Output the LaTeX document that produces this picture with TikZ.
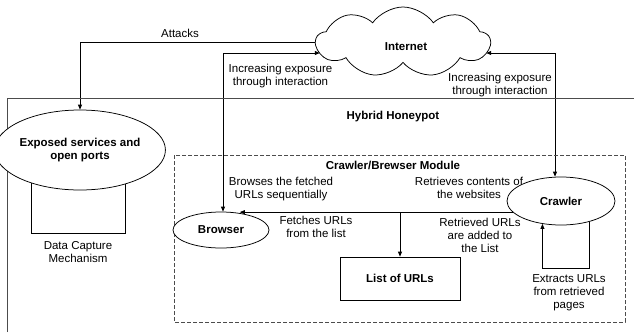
\documentclass[tikz,border=0pt]{standalone}
\usepackage{fontspec}
\setmainfont{Liberation Sans}
\usetikzlibrary{shapes.geometric,shapes.symbols,arrows.meta,backgrounds}
\begin{document}
\begin{tikzpicture}[x=1pt,y=-1pt,
  every node/.style={font=\fontsize{11.5}{13}\selectfont, align=center, inner sep=0pt},
  bold/.style={font=\fontsize{11.5}{13}\selectfont\bfseries},
  line/.style={draw=black, line width=0.75pt},
  arr/.style={line, -{Triangle[length=5pt,width=4pt]}},
  darr/.style={line, {Triangle[length=5pt,width=4pt]}-{Triangle[length=5pt,width=4pt]}},
  oval/.style={ellipse, draw, line width=0.75pt, fill=white, inner sep=0pt},
  boxnode/.style={draw, line width=0.75pt, fill=white, inner sep=0pt},
]
\useasboundingbox (0,0) rectangle (634,332);

% outer Hybrid Honeypot region
\draw[line width=0.9pt, draw=black!70] (7,332) -- (7,98.5) -- (634,98.5);
\node[bold] (hybrid) at (393,117) {Hybrid Honeypot};

% Crawler/Browser module
\draw[line width=0.75pt, draw=black!70, dash pattern=on 4pt off 2pt] (174,155) rectangle (625,322);
\node[bold] (module) at (393,165) {Crawler/Brewser Module};

% Internet cloud
\node[cloud, cloud puffs=9, cloud puff arc=110, aspect=2.5, draw, line width=0.75pt, fill=white,
      minimum width=174pt, minimum height=70pt, inner sep=0pt] (internet) at (403,42) {};
\node[bold] (internettext) at (406,46.5) {Internet};

% Exposed services and data capture
\node[boxnode, minimum width=94pt, minimum height=83pt] (capture) at (78,191.5) {};
\node[oval, bold, minimum width=146pt, minimum height=80pt] (exposed) at (80,150) {Exposed services and\\open ports};
\node (capturetext) at (78,252) {Data Capture\\Mechanism};

% Browser, crawler, list
\node[oval, bold, minimum width=96pt, minimum height=36pt] (browser) at (221,230) {Browser};
\node[oval, bold, minimum width=108pt, minimum height=48pt] (crawler) at (561,201) {Crawler};
\node[boxnode, bold, minimum width=120pt, minimum height=43pt] (list) at (400,278.5) {List of URLs};

% connectors
\begin{scope}[on background layer]
\draw[arr] ([yshift=0pt]internet.west) -| (exposed.north);
\draw[darr] ([xshift=5pt,yshift=-11pt]internet.west) -| ([xshift=2pt]browser.north);
\draw[darr] ([xshift=-5pt,yshift=-11pt]internet.east) -| ([xshift=-6pt]crawler.north);
\draw[arr] (crawler.193) -- (browser.42 |- crawler.193);
\draw[arr] (list.north |- crawler.193) -- (list.north);
\draw[arr] (crawler.-36) |- ([yshift=-43pt]crawler.south) -| (crawler.231.5);
\end{scope}

% labels
\node (attacks) at (180,33) {Attacks};
\node (expl) at (280.5,76.5) {Increasing exposure\\through interaction};
\node (expr) at (500,85) {Increasing exposure\\through interaction};
\node (browses) at (281,189.5) {Browses the fetched\\URLs sequentially};
\node (fetches) at (316,227) {Fetches URLs\\from the list};
\node (retrieves) at (469,188) {Retrieves contents of\\the websites};
\node (retrieved) at (480,235) {Retrieved URLs\\are added to\\the List};
\node (extracts) at (569,293) {Extracts URLs\\from retrieved\\pages};
\end{tikzpicture}
\end{document}
